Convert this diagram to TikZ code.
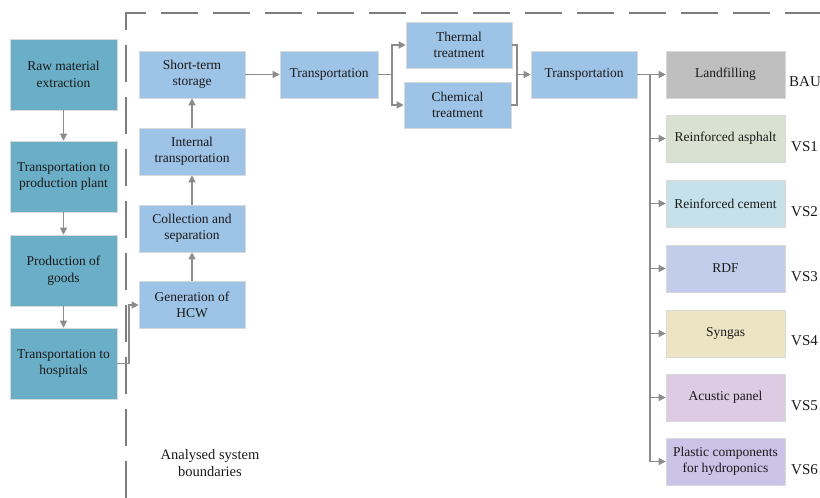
\documentclass[tikz,border=0pt]{standalone}
\usepackage{fontspec}
\setmainfont{Liberation Serif}
\usetikzlibrary{arrows.meta}
\definecolor{teal1}{HTML}{6AAFC7}
\definecolor{lblue}{HTML}{9DC3E6}
\definecolor{cgray}{HTML}{BFBFBF}
\definecolor{cgreen}{HTML}{D9E2D1}
\definecolor{ccement}{HTML}{C6E1EA}
\definecolor{crdf}{HTML}{C1CDEB}
\definecolor{csyn}{HTML}{EDE4C4}
\definecolor{cacu}{HTML}{DCCBE3}
\definecolor{cplas}{HTML}{CBC3E8}
\definecolor{lineg}{HTML}{8C8C8C}
\definecolor{txt}{HTML}{1A1A1A}
\begin{document}
\begin{tikzpicture}[x=1pt,y=-1pt,
  box/.style={draw=white!85!black, line width=0.6pt, align=center, text=txt,
    font=\fontsize{13.5}{16.5}\selectfont, inner sep=1pt},
  leftbox/.style={box, fill=teal1, minimum width=107pt, minimum height=71pt},
  midbox/.style={box, fill=lblue, minimum width=106pt, minimum height=47pt},
  rbox/.style={box, minimum width=119pt, minimum height=47pt},
  arr/.style={draw=lineg, line width=1.3pt, -{Triangle[length=7pt,width=7pt]}},
  ln/.style={draw=lineg, line width=1.3pt},
  vs/.style={anchor=west, text=txt, font=\fontsize{15}{17}\selectfont, inner sep=0pt}
]
\useasboundingbox (0,0) rectangle (820,498);
% boundary
\draw[draw=lineg!90!black, line width=2.4pt, dash pattern=on 37pt off 15pt]
  (126,498) -- (126,13) -- (830,13);
% left column
\node[leftbox] (raw) at (63.5,74.5) {Raw material\\extraction};
\node[leftbox] (tpp) at (63.5,176.5) {Transportation to\\production plant};
\node[leftbox] (prod) at (63.5,270.5) {Production of\\goods};
\node[leftbox] (hosp) at (63.5,363.5) {Transportation to\\hospitals};
% middle column
\node[midbox] (sts) at (192,74.5) {Short-term\\storage};
\node[midbox] (int) at (192,151.5) {Internal\\transportation};
\node[midbox] (coll) at (192,228.5) {Collection and\\separation};
\node[midbox] (gen) at (192,305) {Generation of\\HCW};
\node[midbox, minimum width=98pt] (tr1) at (329,74.5) {Transportation};
\node[midbox, minimum height=46pt] (therm) at (459,45) {Thermal\\treatment};
\node[midbox, minimum height=46pt, minimum width=107pt] (chem) at (457.5,105) {Chemical\\treatment};
\node[midbox] (tr2) at (584,74.5) {Transportation};
% right column
\node[rbox, fill=cgray] (land) at (725.5,74.5) {Landfilling};
\node[rbox, fill=cgreen] (asph) at (725.5,138.5) {Reinforced asphalt};
\node[rbox, fill=ccement] (cem) at (725.5,203.5) {Reinforced cement};
\node[rbox, fill=crdf] (rdf) at (725.5,268.5) {RDF};
\node[rbox, fill=csyn] (syn) at (725.5,333.5) {Syngas};
\node[rbox, fill=cacu] (acu) at (725.5,397.5) {Acustic panel};
\node[rbox, fill=cplas] (plas) at (725.5,461.5) {Plastic components\\for hydroponics};
% labels
\node[vs] (lbau) at (789,82) {BAU};
\node[vs] (lvs1) at (791,147) {VS1};
\node[vs] (lvs2) at (791,212) {VS2};
\node[vs] (lvs3) at (791,277) {VS3};
\node[vs] (lvs4) at (791,341) {VS4};
\node[vs] (lvs5) at (791,406) {VS5};
\node[vs] (lvs6) at (791,470) {VS6};
\node[align=center, text=txt, font=\fontsize{14.5}{17}\selectfont] (asb) at (210,463) {Analysed system\\boundaries};
% connectors left column
\draw[arr] (raw) -- (tpp);
\draw[arr] (tpp) -- (prod);
\draw[arr] (prod) -- (hosp);
\coordinate (hb) at (129,363.5);
\draw[arr] (hosp.east) -- (hb) |- (gen.west);
% middle
\draw[arr] (gen) -- (coll);
\draw[arr] (coll) -- (int);
\draw[arr] (int) -- (sts);
\draw[arr] (sts) -- (tr1);
\coordinate (sp1) at (392,74.5);
\draw[ln] (tr1.east) -- (sp1);
\draw[arr] (sp1) |- (therm.west);
\draw[arr] (sp1) |- (chem.west);
\coordinate (mg) at (517,74.5);
\draw[ln] (therm.east) -| (mg);
\draw[ln] (chem.east) -| (mg);
\draw[arr] (mg) -- (tr2.west);
\coordinate (sp2) at (650,74.5);
\draw[ln] (tr2.east) -- (sp2);
\draw[ln] (sp2) -- (650,461.5);
\foreach \n in {land,asph,cem,rdf,syn,acu,plas}{
  \draw[arr] (sp2) |- (\n.west);
}
\end{tikzpicture}
\end{document}
